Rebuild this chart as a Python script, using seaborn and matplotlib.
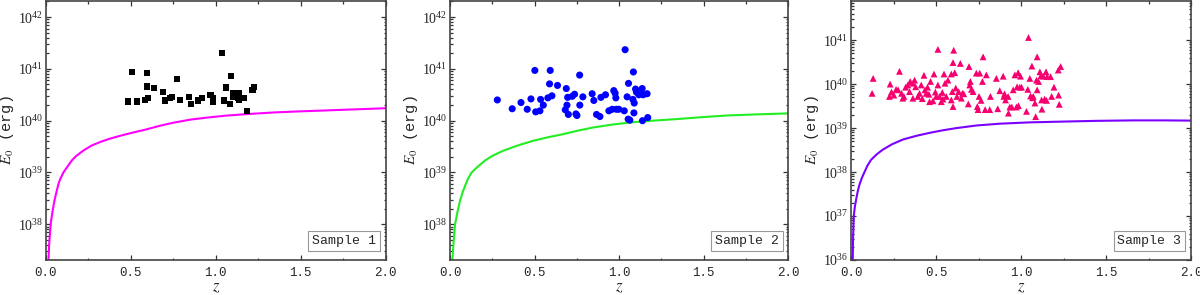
import numpy as np
import pandas as pd
import matplotlib
matplotlib.use("Agg")
import matplotlib.pyplot as plt
import matplotlib.ticker as mticker
import seaborn as sns

# ---- data (z, log10 E0) ----
# sample 1 (black squares)
s1_z = [0.482, 0.506, 0.539, 0.582, 0.596, 0.594, 0.604, 0.637, 0.690, 0.700,
        0.731, 0.743, 0.771, 0.790, 0.843, 0.853, 0.894, 0.920, 0.970, 0.982,
        0.986, 1.037, 1.049, 1.059, 1.088, 1.086, 1.104, 1.104, 1.116, 1.131,
        1.135, 1.139, 1.165, 1.182, 1.216, 1.225]
s1_logE = [40.37, 40.94, 40.37, 40.40, 40.92, 40.66, 40.43, 40.63, 40.56, 40.39,
           40.43, 40.45, 40.81, 40.40, 40.45, 40.32, 40.39, 40.43, 40.50, 40.44,
           40.37, 41.30, 40.39, 40.64, 40.86, 40.32, 40.53, 40.45, 40.48, 40.43,
           40.53, 40.41, 40.43, 40.19, 40.59, 40.65]

# sample 2 (blue circles)
s2_z = [0.280, 0.368, 0.420, 0.457, 0.479, 0.502, 0.507, 0.532, 0.536, 0.552,
        0.579, 0.593, 0.589, 0.603, 0.636, 0.682, 0.688, 0.692, 0.696, 0.700,
        0.723, 0.737, 0.745, 0.751, 0.767, 0.768, 0.786, 0.841, 0.851, 0.867,
        0.887, 0.893, 0.920, 0.940, 0.960, 0.969, 0.977, 0.985, 0.981, 0.999,
        1.036, 1.031, 1.048, 1.056, 1.054, 1.064, 1.082, 1.085, 1.088, 1.090,
        1.098, 1.103, 1.117, 1.131, 1.137, 1.139, 1.143, 1.166, 1.170]
s2_logE = [40.40, 40.23, 40.35, 40.22, 40.42, 40.97, 40.17, 40.19, 40.41, 40.30,
           40.44, 40.97, 40.71, 40.48, 40.68, 40.21, 40.62, 40.30, 40.45, 40.12,
           40.47, 40.51, 40.13, 40.10, 40.88, 40.30, 40.46, 40.52, 40.39, 40.12,
           40.08, 40.45, 40.50, 40.19, 40.22, 40.58, 40.53, 40.22, 40.44, 40.22,
           41.37, 40.19, 40.46, 40.72, 40.03, 40.01, 40.41, 40.94, 40.15, 40.34,
           40.61, 40.55, 40.50, 40.52, 40.62, 40.00, 40.50, 40.52, 40.06]

# sample 3 (pink triangles)
s3_z = [0.130, 0.124, 0.230, 0.226, 0.238, 0.252, 0.265, 0.285, 0.277, 0.297,
        0.305, 0.311, 0.321, 0.334, 0.348, 0.344, 0.364, 0.374, 0.380, 0.364,
        0.393, 0.403, 0.413, 0.419, 0.429, 0.435, 0.442, 0.450, 0.458, 0.468,
        0.462, 0.482, 0.488, 0.496, 0.501, 0.511, 0.511, 0.521, 0.531, 0.537,
        0.541, 0.547, 0.553, 0.560, 0.570, 0.590, 0.590, 0.596, 0.600, 0.600,
        0.604, 0.610, 0.616, 0.623, 0.633, 0.643, 0.649, 0.655, 0.663, 0.690,
        0.694, 0.698, 0.702, 0.708, 0.718, 0.737, 0.743, 0.747, 0.753, 0.757,
        0.765, 0.777, 0.773, 0.789, 0.796, 0.816, 0.820, 0.855, 0.863, 0.875,
        0.895, 0.899, 0.903, 0.909, 0.924, 0.926, 0.934, 0.946, 0.954, 0.964,
        0.973, 0.977, 0.983, 0.985, 0.993, 0.997, 1.003, 1.032, 1.040, 1.044,
        1.052, 1.056, 1.064, 1.068, 1.072, 1.082, 1.086, 1.091, 1.095, 1.095,
        1.103, 1.111, 1.117, 1.121, 1.123, 1.131, 1.139, 1.147, 1.150, 1.154,
        1.174, 1.180, 1.194, 1.221, 1.225, 1.219, 1.233]
s3_logE = [40.13, 39.79, 40.00, 39.72, 39.82, 39.75, 39.88, 40.29, 39.87, 39.79,
           39.68, 39.72, 39.93, 39.98, 40.06, 39.83, 40.02, 40.09, 39.94, 39.68,
           39.72, 39.79, 39.98, 39.67, 40.20, 39.87, 39.79, 39.93, 39.77, 40.06,
           39.60, 39.62, 40.23, 39.82, 39.72, 39.98, 40.79, 39.72, 39.60, 39.81,
           39.66, 40.23, 40.02, 39.72, 40.09, 39.64, 40.23, 39.83, 39.49, 40.49,
           40.77, 40.26, 39.91, 39.72, 39.83, 40.47, 39.68, 39.79, 39.78, 39.55,
           40.40, 39.98, 40.06, 39.88, 39.83, 40.25, 39.49, 39.42, 39.72, 40.25,
           39.63, 40.62, 40.06, 39.42, 40.21, 39.42, 39.72, 40.13, 39.44, 39.85,
           40.18, 39.72, 39.78, 39.64, 39.72, 39.34, 39.48, 39.48, 39.87, 40.21,
           39.48, 39.94, 40.26, 39.51, 39.93, 40.18, 39.93, 39.38, 39.88, 41.06,
           40.13, 39.73, 40.41, 39.69, 39.72, 39.57, 39.26, 40.09, 39.87, 40.62,
           40.06, 40.28, 40.19, 39.64, 39.43, 40.18, 39.66, 40.28, 39.63, 40.17,
           40.17, 39.72, 39.93, 39.75, 39.54, 40.32, 40.40]

# threshold curves
c1_z = [0.016, 0.02, 0.029, 0.04, 0.051, 0.065, 0.075, 0.085, 0.104, 0.125, 0.153,
        0.18, 0.22, 0.27, 0.33, 0.38, 0.44, 0.5, 0.59, 0.67, 0.75, 0.85, 0.95,
        1.07, 1.2, 1.35, 1.5, 1.75, 2.0]
c1_logE = [37.29, 37.6, 38.0, 38.25, 38.45, 38.65, 38.78, 38.87, 39.0, 39.1, 39.23,
           39.32, 39.42, 39.52, 39.60, 39.655, 39.71, 39.76, 39.83, 39.9, 39.96, 40.02, 40.06,
           40.1, 40.13, 40.16, 40.18, 40.21, 40.24]
c2_z = [0.014, 0.02, 0.03, 0.045, 0.059, 0.075, 0.09, 0.105, 0.128, 0.16, 0.207,
        0.25, 0.315, 0.4, 0.49, 0.58, 0.67, 0.76, 0.85, 0.95, 1.08, 1.2, 1.34,
        1.5, 1.64, 1.8, 2.0]
c2_logE = [37.29, 37.6, 38.0, 38.25, 38.45, 38.62, 38.75, 38.87, 39.0, 39.1, 39.23,
           39.32, 39.42, 39.52, 39.61, 39.68, 39.74, 39.81, 39.87, 39.92, 39.97, 40.0, 40.03,
           40.07, 40.10, 40.12, 40.14]
c3_z = [0.01, 0.012, 0.016, 0.022, 0.03, 0.04, 0.05, 0.063, 0.079, 0.097, 0.118,
        0.15, 0.187, 0.24, 0.305, 0.38, 0.46, 0.54, 0.62, 0.74, 0.875, 1.05,
        1.27, 1.45, 1.66, 1.85, 2.0]
c3_logE = [36.0, 36.5, 37.0, 37.2, 37.38, 37.57, 37.72, 37.86, 38.0, 38.15, 38.28,
           38.4, 38.51, 38.63, 38.74, 38.82, 38.89, 38.95, 39.0, 39.06, 39.1, 39.13,
           39.15, 39.165, 39.175, 39.175, 39.17]

labels = ["Sample 1", "Sample 2", "Sample 3"]

sns.set_style("ticks")
plt.rcParams["font.family"] = ["Liberation Serif", "DejaVu Serif"]
plt.rcParams["mathtext.fontset"] = "stix"

fig = plt.figure(figsize=(12, 2.95), dpi=100)
rects = [[0.0381, 0.1186, 0.2833, 0.878],
         [0.375, 0.1186, 0.2817, 0.878],
         [0.7092, 0.1186, 0.2833, 0.878]]

panels = [
    (s1_z, s1_logE, "s", "black", 20, c1_z, c1_logE, "#ff00ff", (10**37.31, 10**42.31)),
    (s2_z, s2_logE, "o", "#0000ff", 26, c2_z, c2_logE, "#22ee22", (10**37.31, 10**42.31)),
    (s3_z, s3_logE, "^", "#f5006e", 24, c3_z, c3_logE, "#7a00ff", (1e36, 10**41.89)),
]

for i, (sz, slog, mk, mc, ms, cz, clog, lc, ylim) in enumerate(panels):
    ax = fig.add_axes(rects[i])
    pts = pd.DataFrame({"z": sz, "E": 10 ** np.array(slog)})
    crv = pd.DataFrame({"z": cz, "E": 10 ** np.array(clog)})
    sns.lineplot(data=crv, x="z", y="E", color=lc, lw=1.5, ax=ax, sort=True)
    sns.scatterplot(data=pts, x="z", y="E", marker=mk, color=mc, s=ms,
                    edgecolor="none", ax=ax, zorder=3)
    ax.set_yscale("log")
    ax.set_xlim(0, 2.0)
    ax.set_ylim(*ylim)
    ax.xaxis.set_major_locator(mticker.MultipleLocator(0.5))
    ax.xaxis.set_minor_locator(mticker.MultipleLocator(0.25))
    ax.xaxis.set_major_formatter(mticker.FormatStrFormatter("%.1f"))
    ax.yaxis.set_major_locator(mticker.LogLocator(base=10, numticks=20))
    ax.yaxis.set_minor_locator(mticker.LogLocator(base=10, subs=np.arange(2, 10), numticks=20))
    ax.yaxis.set_minor_formatter(mticker.NullFormatter())
    ax.tick_params(which="both", direction="in", top=True, right=True,
                   color="#333333", width=0.9)
    ax.tick_params(which="major", length=3.5, pad=3)
    ax.tick_params(axis="y", which="major", labelsize=10, pad=2)
    ax.tick_params(axis="x", which="major", labelsize=9, pad=5)
    ax.tick_params(which="minor", length=1.8)
    for lab in ax.get_xticklabels():
        lab.set_family("Liberation Mono")
    for sp in ax.spines.values():
        sp.set_color("#444444")
        sp.set_linewidth(1.2)
    ax.set_xlabel(r"$z$", fontsize=12, labelpad=0)
    ax.set_ylabel(r"$E_0$ (erg)", fontsize=11, family="Liberation Mono", labelpad=1)
    ax.text(0.972, 0.05, labels[i], transform=ax.transAxes, ha="right", va="bottom",
            fontsize=9.5, family="Liberation Mono",
            bbox=dict(boxstyle="square,pad=0.3", fc="white", ec="#999999", lw=0.8))

fig.savefig("out.png", dpi=100)
